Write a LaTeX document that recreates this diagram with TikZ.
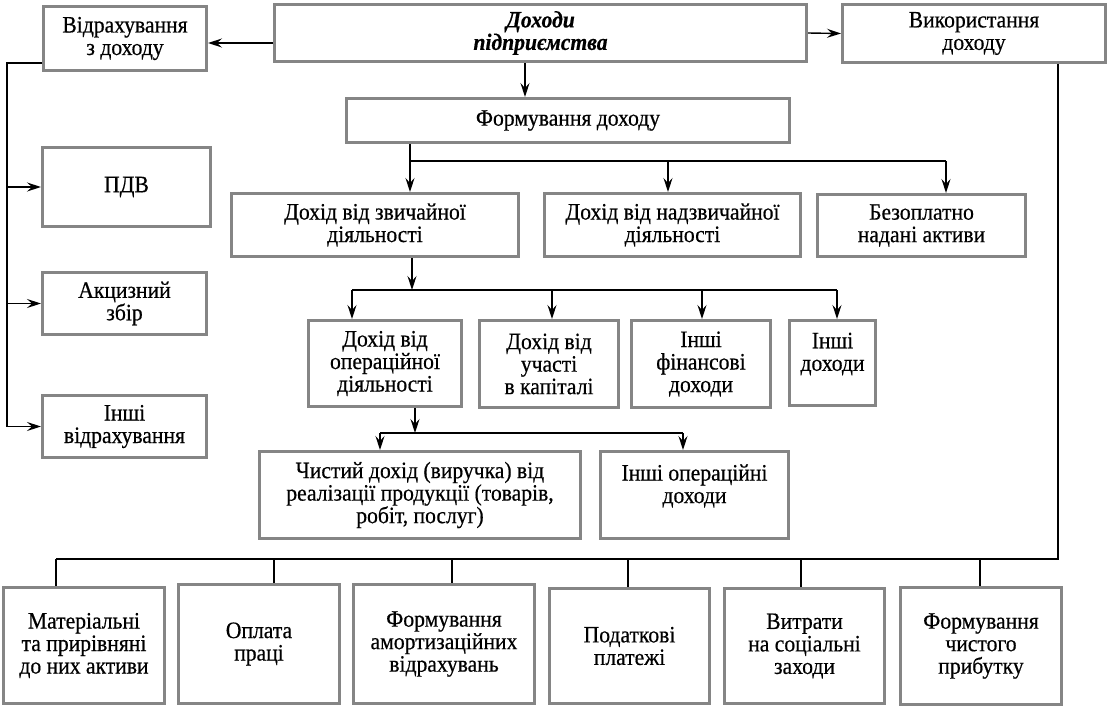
\documentclass[tikz,border=0pt]{standalone}
\usepackage{fontspec}
\setmainfont{Liberation Serif}[FakeStretch=0.92,FakeBold=0.5]
\usetikzlibrary{arrows.meta,calc}
\definecolor{boxgray}{HTML}{858585}
\begin{document}
\begin{tikzpicture}[x=1pt,y=-1pt,
  box/.style={draw=boxgray, line width=3pt, fill=white, inner sep=0pt, align=center,
    font=\fontsize{23.5}{22.5}\selectfont},
  conn/.style={line width=1.4pt, black},
  arr/.style={conn, -{Stealth[length=14pt,width=9pt,inset=5pt]}}]
\useasboundingbox (0,0) rectangle (1111,710);

% top row
\node[box, minimum width=163pt, minimum height=64pt] (otr) at (125,38.5) {Відрахування\\з доходу};
\node[box, minimum width=532pt, minimum height=57pt] (doh) at (540.5,33) {\bfseries\itshape Доходи\\\bfseries\itshape підприємства};
\node[box, minimum width=263pt, minimum height=58pt] (vyk) at (974,33.5) {Використання\\доходу};

\node[box, minimum width=443pt, minimum height=44pt] (form) at (568,120.5) {Формування доходу};

\node[box, minimum width=287pt, minimum height=63pt] (zv) at (375,225) {Дохід від звичайної\\діяльності};
\node[box, minimum width=256pt, minimum height=63pt] (nadzv) at (672.5,225) {Дохід від надзвичайної\\діяльності};
\node[box, minimum width=208pt, minimum height=62pt] (bez) at (921.5,225.5) {Безоплатно\\надані активи};

\node[box, minimum width=153pt, minimum height=86pt] (oper) at (385,363.5) {Дохід від\\операційної\\діяльності};
\node[box, minimum width=139pt, minimum height=87pt] (uch) at (549,364) {Дохід від\\участі\\в капіталі};
\node[box, minimum width=139pt, minimum height=87pt] (fin) at (701,364) {Інші\\фінансові\\доходи};
\node[box, minimum width=86pt, minimum height=85pt] (insh) at (832.5,363) {Інші\\доходи\\\mbox{}};

\node[box, minimum width=321pt, minimum height=87pt] (chyst) at (420,495) {Чистий дохід (виручка) від\\реалізації продукції (товарів,\\робіт, послуг)};
\node[box, minimum width=188pt, minimum height=87pt] (inshop) at (694.5,495) {Інші операційні\\доходи\\\mbox{}};

% left column
\node[box, minimum width=168pt, minimum height=79pt] (pdv) at (126.5,187) {ПДВ};
\node[box, minimum width=164pt, minimum height=62pt] (akc) at (124.5,303.5) {Акцизний\\збір};
\node[box, minimum width=164pt, minimum height=62pt] (inotr) at (124.5,426.5) {Інші\\відрахування};

% bottom row
\node[box, minimum width=161pt, minimum height=116pt] (b1) at (84,645.5) {Матеріальні\\та прирівняні\\до них активи};
\node[box, minimum width=161pt, minimum height=119pt] (b2) at (259,644) {Оплата\\праці};
\node[box, minimum width=181pt, minimum height=119pt] (b3) at (444,644) {Формування\\амортизаційних\\відрахувань};
\node[box, minimum width=160pt, minimum height=115pt] (b4) at (629.5,646) {Податкові\\платежі};
\node[box, minimum width=160pt, minimum height=115pt] (b5) at (804.5,646) {Витрати\\на соціальні\\заходи};
\node[box, minimum width=161pt, minimum height=117pt] (b6) at (981,646) {Формування\\чистого\\прибутку};

% top arrows
\coordinate (a1) at ($(doh.west)+(0,10)$);
\draw[arr] (a1) -- (a1 -| otr.east);
\draw[arr] (doh.east) -- (vyk.west);
\coordinate (c1) at (525,0);
\draw[arr] (doh.south -| c1) -- (form.north -| c1);

% formation branches
\coordinate (f1) at (410,161);
\coordinate (f2) at (668,161);
\coordinate (f3) at (946,161);
\draw[conn] (form.south -| f1) -- (f1) -- (f3);
\draw[arr] (f1) -- (f1 |- zv.north);
\draw[arr] (f2) -- (f2 |- nadzv.north);
\draw[arr] (f3) -- (f3 |- bez.north);

% ordinary activity branches
\coordinate (z0) at (412,290);
\coordinate (z1) at (352,290);
\coordinate (z2) at (552,290);
\coordinate (z3) at (702,290);
\coordinate (z4) at (837,290);
\draw[arr] (zv.south -| z0) -- (z0);
\draw[conn] (z1) -- (z4);
\draw[arr] (z1) -- (z1 |- oper.north);
\draw[arr] (z2) -- (z2 |- uch.north);
\draw[arr] (z3) -- (z3 |- fin.north);
\draw[arr] (z4) -- (z4 |- insh.north);

% operating activity branches
\coordinate (o0) at (415,433);
\coordinate (o1) at (380,433);
\coordinate (o2) at (683,433);
\draw[arr] (oper.south -| o0) -- (o0);
\draw[conn] (o1) -- (o2);
\draw[arr] (o1) -- (o1 |- chyst.north);
\draw[arr] (o2) -- (o2 |- inshop.north);

% left deductions
\coordinate (lt) at (7,63);
\draw[conn] (otr.west |- lt) -- (lt) -- (lt |- inotr.west);
\draw[arr] (lt |- pdv.west) -- (pdv.west);
\draw[arr] (lt |- akc.west) -- (akc.west);
\draw[arr] (lt |- inotr.west) -- (inotr.west);

% usage bus
\coordinate (busR) at (1058,559);
\coordinate (t1) at (56,559);
\coordinate (t2) at (274,559);
\coordinate (t3) at (452,559);
\coordinate (t4) at (628,559);
\coordinate (t5) at (801,559);
\coordinate (t6) at (980,559);
\draw[conn] (vyk.south -| busR) -- (busR) -- (t1);
\draw[conn] (t1) -- (t1 |- b1.north);
\draw[conn] (t2) -- (t2 |- b2.north);
\draw[conn] (t3) -- (t3 |- b3.north);
\draw[conn] (t4) -- (t4 |- b4.north);
\draw[conn] (t5) -- (t5 |- b5.north);
\draw[conn] (t6) -- (t6 |- b6.north);
\end{tikzpicture}
\end{document}
